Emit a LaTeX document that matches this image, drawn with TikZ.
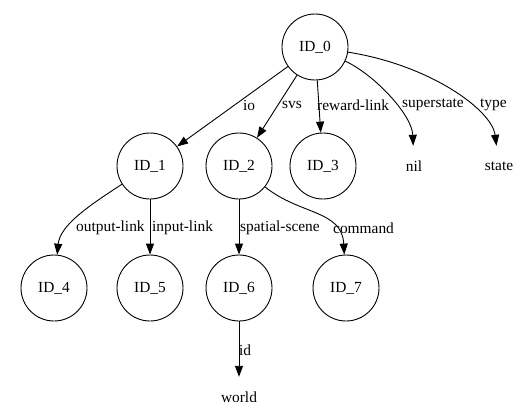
\documentclass[tikz,border=0pt]{standalone}
\usepackage{fontspec}
\setmainfont{Liberation Serif}
\usetikzlibrary{arrows.meta}
\begin{document}
\begin{tikzpicture}[x=1pt,y=-1pt,
  idnode/.style={draw,circle,minimum size=66pt,inner sep=0pt,line width=0.9pt,font=\fontsize{15.4}{18}\selectfont},
  leaf/.style={draw=none,minimum height=40pt,minimum width=30pt,inner sep=0pt,font=\fontsize{15.4}{18}\selectfont},
  elabel/.style={anchor=west,inner sep=0pt,font=\fontsize{15.4}{18}\selectfont},
  edge/.style={line width=0.9pt,-{Triangle[length=11pt,width=8pt]}}]
\useasboundingbox (0,0) rectangle (521,405);
\node[idnode] (n0) at (315,47) {ID\_0};
\node[idnode] (n1) at (150,166) {ID\_1};
\node[idnode] (n2) at (239,166) {ID\_2};
\node[idnode] (n3) at (323,166) {ID\_3};
\node[leaf] (nil) at (414,166) {nil};
\node[leaf] (state) at (499,166) {state};
\node[idnode] (n4) at (54,288) {ID\_4};
\node[idnode] (n5) at (150,288) {ID\_5};
\node[idnode] (n6) at (239,288) {ID\_6};
\node[idnode] (n7) at (346,288) {ID\_7};
\node[leaf] (world) at (239,397) {world};

\draw[edge] (n0) -- (n1);
\draw[edge] (n0) -- (n2);
\draw[edge] (n0) -- (n3);
\draw[edge] (n0) .. controls (375,75) and (412,115) .. (nil);
\draw[edge] (n0) .. controls (430,65) and (492,110) .. (state);
\draw[edge] (n1) .. controls (90,205) and (60,225) .. (n4);
\draw[edge] (n1) -- (n5);
\draw[edge] (n2) -- (n6);
\draw[edge] (n2) .. controls (300,215) and (342,210) .. (n7);
\draw[edge] (n6) -- (world);

\node[elabel] (lio) at (243,105) {io};
\node[elabel] (lsvs) at (282,105) {svs};
\node[elabel] (lrew) at (317,105) {reward-link};
\node[elabel] (lsup) at (402,105) {superstate};
\node[elabel] (ltype) at (480,105) {type};
\node[elabel] (lout) at (76,228) {output-link};
\node[elabel] (lin) at (152,228) {input-link};
\node[elabel] (lsp) at (240,228) {spatial-scene};
\node[elabel] (lcmd) at (333,228) {command};
\node[elabel] (lid) at (239,350) {id};
\end{tikzpicture}
\end{document}
